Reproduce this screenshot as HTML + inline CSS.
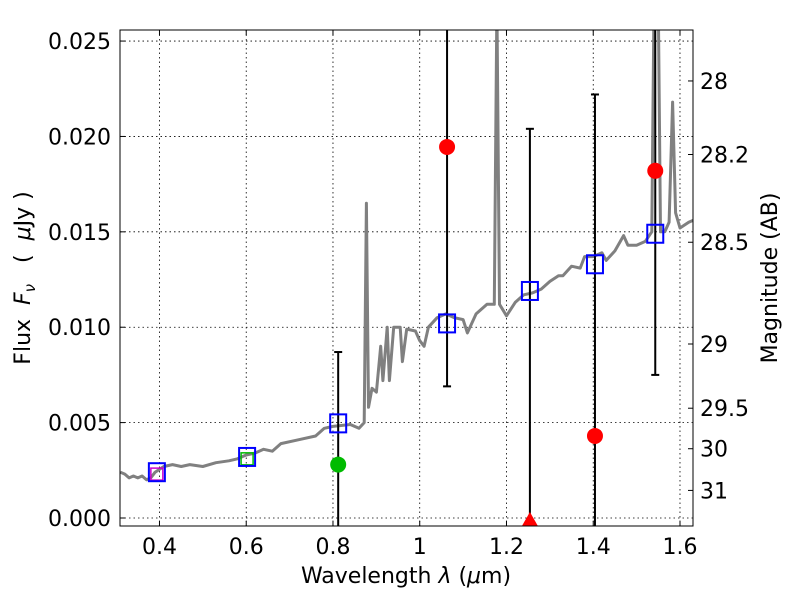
<!DOCTYPE html>
<html><head><meta charset="utf-8"><style>
html,body{margin:0;padding:0;background:#fff;overflow:hidden;width:800px;height:600px;}
svg{display:block;overflow:hidden;position:absolute;left:0;top:0;}
svg text{font-family:"DejaVu Sans","Liberation Sans",sans-serif;fill:#000;}
</style></head><body>
<svg id="chart" width="800" height="600" viewBox="0 0 800 600" xmlns="http://www.w3.org/2000/svg">
<g id="grid"></g>
<g id="plot" clip-path="url(#clip)"></g>
<defs><clipPath id="clip"><rect x="120" y="30" width="573" height="496"/></clipPath></defs>
<rect x="120" y="30" width="573" height="496" fill="none" stroke="#000" stroke-width="1"/>
<g id="axes"></g>
<text x="406" y="583" font-size="22" text-anchor="middle">Wavelength  <tspan font-style="italic">λ</tspan> (<tspan font-style="italic">μ</tspan>m)</text>
<text transform="translate(30,278) rotate(-90)" font-size="22" text-anchor="middle" xml:space="preserve">Flux  <tspan font-style="italic">F</tspan><tspan font-style="italic" font-size="15" dy="5">ν</tspan><tspan dy="-5">   (  </tspan><tspan font-style="italic">μ</tspan>Jy )</text>
<text transform="translate(777,278) rotate(-90)" font-size="22" text-anchor="middle">Magnitude (AB)</text>
</svg>
<script>
const xTicks=[0.4,0.6,0.8,1.0,1.2,1.4,1.6];
const xTickLabels=["0.4","0.6","0.8","1","1.2","1.4","1.6"];
const yTicks=[0,0.005,0.01,0.015,0.02,0.025];
const yTickLabels=["0.000","0.005","0.010","0.015","0.020","0.025"];
const magTicks=[28,28.2,28.5,29,29.5,30,31];
const magTickLabels=["28","28.2","28.5","29","29.5","30","31"];
const specLam=[0.31,0.32,0.33,0.34,0.35,0.36,0.37,0.38,0.39,0.41,0.43,0.45,0.47,0.50,0.53,0.56,0.58,0.60,0.62,0.64,0.66,0.68,0.72,0.76,0.78,0.80,0.84,0.86,0.872,0.877,0.882,0.89,0.90,0.91,0.915,0.925,0.93,0.94,0.955,0.96,0.97,0.99,1.0,1.01,1.02,1.04,1.06,1.08,1.10,1.11,1.13,1.155,1.172,1.178,1.184,1.20,1.22,1.24,1.26,1.28,1.30,1.32,1.33,1.35,1.37,1.38,1.40,1.42,1.43,1.45,1.47,1.48,1.50,1.52,1.535,1.54,1.55,1.555,1.565,1.575,1.583,1.59,1.60,1.62,1.63];
const specFlux=[0.0024,0.0023,0.0021,0.0022,0.0021,0.0022,0.0020,0.0021,0.0024,0.0027,0.0028,0.0027,0.0028,0.0027,0.0029,0.0030,0.0031,0.0033,0.0034,0.0036,0.0035,0.0039,0.0041,0.0043,0.0047,0.0048,0.0049,0.0047,0.0050,0.0165,0.0058,0.0068,0.0066,0.0090,0.0072,0.0100,0.0072,0.0100,0.0100,0.0082,0.0099,0.0098,0.0093,0.0090,0.0100,0.0105,0.0107,0.0105,0.0104,0.0097,0.0107,0.0112,0.0112,0.0270,0.0112,0.0106,0.0113,0.0117,0.0118,0.0120,0.0124,0.0127,0.0127,0.0132,0.0131,0.0137,0.0137,0.0139,0.0135,0.0140,0.0148,0.0143,0.0143,0.0145,0.0150,0.0270,0.0270,0.0150,0.0150,0.0155,0.0218,0.0160,0.0152,0.0155,0.0156];
const modelLam=[0.394,0.602,0.812,1.063,1.254,1.404,1.543];
const modelFlux=[0.0024,0.0032,0.00496,0.0102,0.0119,0.0133,0.0149];
const obsLam=[0.812,1.063,1.254,1.404,1.543];
const obsFlux=[0.0028,0.01945,0.0,0.0043,0.0182];
const obsErrLo=[-0.01,0.0069,-0.01,-0.01,0.0075];
const obsErrHi=[0.0087,0.04,0.0204,0.0222,0.04];
const obsColor=["#00bb00","red","red","red","red"];
const obsUpperLimit=[false,false,true,false,false];
const X0=120,X1=693,Y0=526,Y1=30,LMIN=0.309,LMAX=1.630,FMIN=-0.00042,FMAX=0.02558;
const sx=l=>X0+(l-LMIN)/(LMAX-LMIN)*(X1-X0);
const sy=f=>Y0-(f-FMIN)/(FMAX-FMIN)*(Y0-Y1);
const NS="http://www.w3.org/2000/svg";
function mk(tag,attrs,parent){const e=document.createElementNS(NS,tag);for(const k in attrs)e.setAttribute(k,attrs[k]);parent.appendChild(e);return e;}
const grid=document.getElementById('grid'),plot=document.getElementById('plot'),axes=document.getElementById('axes');
xTicks.forEach((t,i)=>{const x=sx(t);
 const g=mk('line',{x1:x,x2:x,y1:Y1,y2:Y0,stroke:'#000','stroke-width':0.8,'stroke-dasharray':'1.5,3'},grid);
 
 mk('line',{x1:x,x2:x,y1:Y0,y2:Y0-5,stroke:'#000'},axes);mk('line',{x1:x,x2:x,y1:Y1,y2:Y1+5,stroke:'#000'},axes);
 const tx=mk('text',{x:x,y:554,'font-size':22,'text-anchor':'middle'},axes);tx.textContent=xTickLabels[i];
 });
yTicks.forEach((t,i)=>{const y=sy(t);
 const g=mk('line',{x1:X0,x2:X1,y1:y,y2:y,stroke:'#000','stroke-width':0.8,'stroke-dasharray':'1.5,3'},grid);
 
 mk('line',{x1:X0,x2:X0+5,y1:y,y2:y,stroke:'#000'},axes);
 const tx=mk('text',{x:111,y:y+8,'font-size':22,'text-anchor':'end'},axes);tx.textContent=yTickLabels[i];
 });
magTicks.forEach((m,i)=>{const y=sy(Math.pow(10,(23.9-m)/2.5));
 mk('line',{x1:X1,x2:X1-5,y1:y,y2:y,stroke:'#000'},axes);
 const tx=mk('text',{x:700,y:y+8,'font-size':22},axes);tx.textContent=magTickLabels[i];
 });
const pts=specLam.map((l,i)=>sx(l).toFixed(1)+','+sy(specFlux[i]).toFixed(1)).join(' ');
const sp=mk('polyline',{points:pts,fill:'none',stroke:'#808080','stroke-width':3,'stroke-linejoin':'round'},plot);

obsLam.forEach((l,i)=>{const x=sx(l);
 const e=mk('line',{x1:x,x2:x,y1:sy(obsErrLo[i]),y2:sy(obsErrHi[i]),stroke:'#000','stroke-width':2},plot);
 
 [obsErrLo[i],obsErrHi[i]].forEach(v=>{if(v>FMIN&&v<FMAX)mk('line',{x1:x-4,x2:x+4,y1:sy(v),y2:sy(v),stroke:'#000','stroke-width':2},plot);});});
const m0=mk('rect',{x:sx(0.394)-6,y:sy(0.0023)-6,width:12,height:12,fill:'none',stroke:'#cc00cc','stroke-width':1.5},plot);

const g0=mk('rect',{x:sx(0.602)-6,y:sy(0.0031)-6,width:12,height:12,fill:'none',stroke:'#00bb00','stroke-width':1.5},plot);

modelLam.forEach((l,i)=>{const r=mk('rect',{x:sx(l)-8,y:sy(modelFlux[i])-9,width:16,height:18,fill:'none',stroke:'#0000ff','stroke-width':2},plot);
 });
obsLam.forEach((l,i)=>{const x=sx(l),y=sy(obsFlux[i]);let m;
 if(obsUpperLimit[i]){m=mk('polygon',{points:`${x-8},${y+8} ${x+8},${y+8} ${x},${y-6}`,fill:obsColor[i]},plot);}
 else{m=mk('circle',{cx:x,cy:y,r:8,fill:obsColor[i]},plot);}
 });
</script>
</body></html>
